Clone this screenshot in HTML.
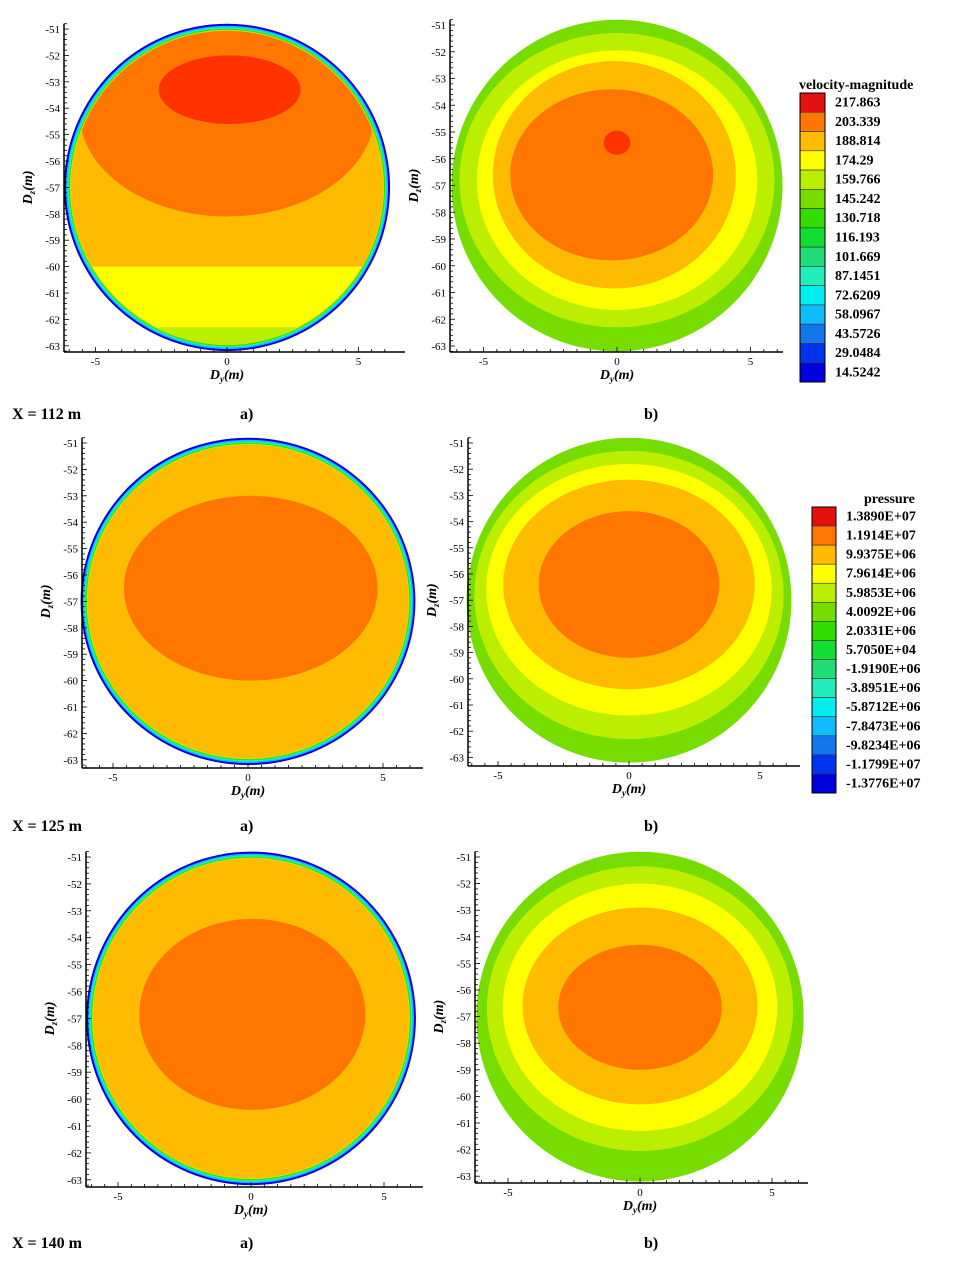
<!DOCTYPE html>
<html><head><meta charset="utf-8"><style>
body{margin:0;background:#fff;width:961px;height:1262px;overflow:hidden}
svg{display:block}
text{font-family:"Liberation Serif",serif}
</style></head><body>
<svg id="fig" width="961" height="1262" xmlns="http://www.w3.org/2000/svg"></svg>
<script>
const velLevels=["217.863","203.339","188.814","174.29","159.766","145.242","130.718","116.193","101.669","87.1451","72.6209","58.0967","43.5726","29.0484","14.5242"];
const presLevels=["1.3890E+07","1.1914E+07","9.9375E+06","7.9614E+06","5.9853E+06","4.0092E+06","2.0331E+06","5.7050E+04","-1.9190E+06","-3.8951E+06","-5.8712E+06","-7.8473E+06","-9.8234E+06","-1.1799E+07","-1.3776E+07"];
const palette=["#e3120e","#ff3300","#ff7700","#ffbb00","#ffff00","#bbee00","#77dd00","#33dd00","#11dd33","#22dd77","#22eebb","#00eeee","#11bbff","#1177ee","#0033ee","#0000dd"];
const yTicks=[-51,-52,-53,-54,-55,-56,-57,-58,-59,-60,-61,-62,-63];
const xTicks=[-5,0,5];
const rowLabels=["X = 112 m","X = 125 m","X = 140 m"];
// layers: [type, cx, cy, rx, ry, colorIndex] in data units; band: ['band', yTop, colorIndex]
const layers1a=[["fill",3],["band",-60,4],["band",-62.3,5],["ell",0,-54.2,5.6,3.9,2],["ell",0.1,-53.3,2.7,1.3,1]];
const layers1b=[["fill",6],["ell",0,-56.8,5.9,5.5,5],["ell",0,-56.8,5.25,4.85,4],["ell",-0.1,-56.6,4.55,4.25,3],["ell",-0.2,-56.6,3.8,3.2,2],["ell",0,-55.4,0.5,0.45,1]];
const layers2a=[["fill",3],["ell",0.1,-56.5,4.7,3.5,2]];
const layers2b=[["fill",6],["ell",0,-56.8,5.9,5.5,5],["ell",0,-56.6,5.45,4.8,4],["ell",0,-56.4,4.8,4.0,3],["ell",0,-56.4,3.45,2.8,2]];
const layers3a=[["fill",3],["ell",0.05,-56.85,4.25,3.55,2]];
const layers3b=[["fill",6],["ell",0,-56.7,5.8,5.35,5],["ell",0,-56.65,5.2,4.65,4],["ell",0,-56.6,4.45,3.7,3],["ell",0,-56.65,3.1,2.35,2]];
const panels=[
 {name:"x112-a",ax:64,x0:227,xs:26.3,y51:29,ys:26.4,bot:352,xend:405,layers:layers1a,ring:true},
 {name:"x112-b",ax:450,x0:617,xs:26.7,y51:25,ys:26.75,bot:352,xend:783,layers:layers1b,ring:false},
 {name:"x125-a",ax:82,x0:248,xs:27.0,y51:443,ys:26.4,bot:768,xend:423,layers:layers2a,ring:true},
 {name:"x125-b",ax:468,x0:629,xs:26.2,y51:443,ys:26.2,bot:766,xend:800,layers:layers2b,ring:false},
 {name:"x140-a",ax:86,x0:251,xs:26.6,y51:857,ys:26.9,bot:1187,xend:423,layers:layers3a,ring:true},
 {name:"x140-b",ax:475,x0:640,xs:26.4,y51:857,ys:26.6,bot:1183,xend:808,layers:layers3b,ring:false}
];
const NS="http://www.w3.org/2000/svg";
const svg=document.getElementById("fig");
function mk(tag,attrs,parent){const e=document.createElementNS(NS,tag);for(const k in attrs)e.setAttribute(k,attrs[k]);(parent||svg).appendChild(e);return e;}
function txt(s,attrs,parent){const e=mk("text",attrs,parent);e.textContent=s;return e;}
const defs=mk("defs",{});
panels.forEach((p,i)=>{
 const sx=v=>p.x0+v*p.xs, sy=v=>p.y51+(-51-v)*p.ys;
 const g=mk("g",{});
 
 
 const cx=sx(0),cy=sy(-57),rx=6.2*p.xs,ry=6.2*p.ys;
 const cp=mk("clipPath",{id:"c"+i},defs);
 const rIn=p.ring?7:0;
 mk("ellipse",{cx,cy,rx:rx-rIn,ry:ry-rIn},cp);
 if(p.ring){
   [[0,15],[2,12],[3.5,10],[5,7],[6,5]].forEach(([d,c])=>{
     const e=mk("ellipse",{cx,cy,rx:rx-d,ry:ry-d,fill:palette[c]},g);
     
     
   });
 }
 const cg=mk("g",{"clip-path":"url(#c"+i+")"},g);
 p.layers.forEach(l=>{
   let e;
   if(l[0]==="fill") e=mk("rect",{x:cx-rx,y:cy-ry,width:2*rx,height:2*ry,fill:palette[l[1]]},cg);
   else if(l[0]==="band") e=mk("rect",{x:cx-rx,y:sy(l[1]),width:2*rx,height:cy+ry-sy(l[1]),fill:palette[l[2]]},cg);
   else e=mk("ellipse",{cx:sx(l[1]),cy:sy(l[2]),rx:l[3]*p.xs,ry:l[4]*p.ys,fill:palette[l[5]]},cg);
   
   
 });
 const ya=mk("line",{x1:p.ax,y1:sy(-50.8),x2:p.ax,y2:p.bot,stroke:"#000","stroke-width":1.5},g);
 
 
 const xa=mk("line",{x1:p.ax,y1:p.bot,x2:p.xend,y2:p.bot,stroke:"#000","stroke-width":1.5},g);
 
 
 for(let v=-50.8;v>=-63.21;v-=0.2){const y=sy(v);const major=Math.abs(v-Math.round(v))<0.01;mk("line",{x1:p.ax,y1:y,x2:p.ax+(major?5:3),y2:y,stroke:"#000","stroke-width":0.8},g);}
 for(let v=-6;v<=6.01;v+=0.5){const x=sx(v);if(x<p.ax||x>p.xend)continue;const major=Math.abs(v-Math.round(v/5)*5)<0.01;mk("line",{x1:x,y1:p.bot,x2:x,y2:p.bot-(major?5:3),stroke:"#000","stroke-width":0.8},g);}
 yTicks.forEach(v=>{const t=txt(String(v),{x:p.ax-4,y:sy(v)+4,"font-size":11,"text-anchor":"end"},g);});
 xTicks.forEach(v=>{const t=txt(String(v),{x:sx(v),y:p.bot+13,"font-size":11,"text-anchor":"middle"},g);});
 const xt=txt("",{x:sx(0),y:p.bot+27,"font-size":14,"font-weight":"bold","font-style":"italic","text-anchor":"middle"},g);
 xt.innerHTML='D<tspan font-size="9" dy="3">y</tspan><tspan dy="-3">(m)</tspan>';
 
 
 const yx=p.ax-32, yy=sy(-57);
 const yt=txt("",{x:yx,y:yy,"font-size":14,"font-weight":"bold","font-style":"italic","text-anchor":"middle",transform:`rotate(-90 ${yx} ${yy})`},g);
 yt.innerHTML='D<tspan font-size="9" dy="3">z</tspan><tspan dy="-3">(m)</tspan>';
 
 
});
function legend(name,title,levels,x,y0,y1,w,tx,ty,lx){
 const g=mk("g",{});
 
 
 const h=(y1-y0)/levels.length;
 levels.forEach((lv,i)=>{
   const r=mk("rect",{x,y:y0+i*h,width:w,height:h,fill:palette[Math.min(i+(i>=1?1:0),15)],stroke:"#333","stroke-width":0.6},g);
   
   
   const t=txt(lv,{x:lx,y:y0+i*h+5+h/2-1,"font-size":14,"font-weight":"bold"},g);
   
   
 });
 mk("rect",{x,y:y0,width:w,height:y1-y0,fill:"none",stroke:"#000","stroke-width":1},g);
 const t=txt(title,{x:tx,y:ty,"font-size":14,"font-weight":"bold"},g);
 
 
}
legend("velocity-legend","velocity-magnitude",velLevels,800,93,382,25,799,89,835);
legend("pressure-legend","pressure",presLevels,812,507,793,24,864,503,846);
[414,826,1243].forEach((y,i)=>{
 const a=txt(rowLabels[i],{x:12,y:y+5,"font-size":16,"font-weight":"bold"});
 
 
 const b=txt("a)",{x:240,y:y+5,"font-size":16,"font-weight":"bold"});
 
 
 const c=txt("b)",{x:644,y:y+5,"font-size":16,"font-weight":"bold"});
 
 
});
</script>
</body></html>
